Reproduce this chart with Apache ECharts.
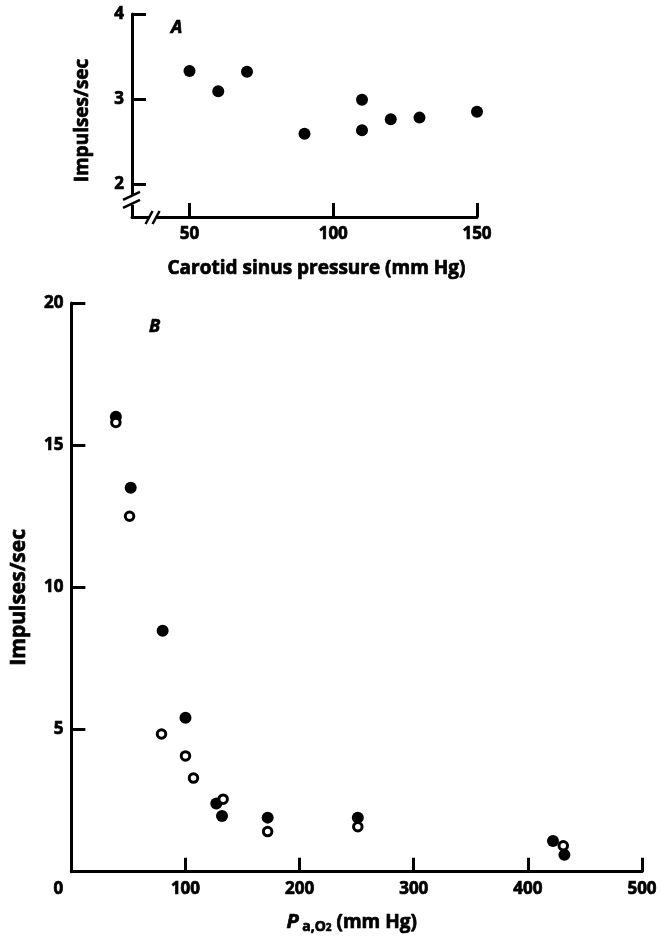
<!DOCTYPE html>
<html><head><meta charset="utf-8">
<script src="https://cdn.jsdelivr.net/npm/echarts@6/dist/echarts.min.js"></script>
<style>html,body{margin:0;padding:0;background:#fff}#c{width:662px;height:939px}</style>
</head><body><div id="c"></div>
<script>
// Panel A: carotid sinus pressure vs impulses/sec
const aPressure = [50, 60, 70, 90, 110, 110, 120, 130, 150];
const aImpulses = [3.33, 3.09, 3.32, 2.59, 2.99, 2.63, 2.76, 2.78, 2.85];
const aXTicks = [50, 100, 150];
const aYTicks = [2, 3, 4];
// Panel B: PaO2 vs impulses/sec
const bFilledPO2 = [39, 52, 80, 100, 127, 132, 172, 251, 422, 432];
const bFilledImp = [16.0, 13.5, 8.47, 5.41, 2.40, 1.96, 1.90, 1.90, 1.08, 0.59];
const bOpenPO2 = [39, 51, 79, 100, 107, 133, 172, 251, 431];
const bOpenImp = [15.8, 12.5, 4.84, 4.07, 3.29, 2.55, 1.41, 1.58, 0.91];

const F = '"Open Sans", Lato, sans-serif';
const zip = (a, b) => a.map((v, i) => [v, b[i]]);
const axLine = {show: true, lineStyle: {color: '#000', width: 3}};
const tick = {show: true, inside: true, length: 14, lineStyle: {color: '#000', width: 3}};
const thick = {textBorderColor: '#000', textBorderWidth: 0.7};
const lab = (fs) => Object.assign({color: '#000', fontFamily: F, fontWeight: 'bold', fontSize: fs}, thick);
const ttl = Object.assign({fontFamily: F, fontStyle: 'italic', fontWeight: 'bold', fontSize: 18, color: '#000'}, thick);

const chart = echarts.init(document.getElementById('c'), null, {renderer: 'canvas'});
const option = {
  backgroundColor: '#fff',
  animation: false,
  grid: [
    {left: 132, right: 185, top: 14, height: 203},
    {left: 70, right: 20, top: 303, bottom: 63}
  ],
  title: [
    {text: 'A', left: 166, top: 14, textStyle: ttl},
    {text: 'B', left: 144, top: 313, textStyle: ttl}
  ],
  xAxis: [
    {gridIndex: 0, type: 'value', min: 30, max: 150,
     axisLine: axLine, splitLine: {show: false},
     axisTick: Object.assign({}, tick, {customValues: aXTicks}),
     axisLabel: Object.assign(lab(17), {customValues: aXTicks, margin: 9}),
     name: 'Carotid sinus pressure (mm Hg)', nameLocation: 'middle', nameGap: 42,
     nameTextStyle: Object.assign(lab(19), {padding: [0, 0, 0, 24]})},
    {gridIndex: 1, type: 'value', min: 0, max: 500, interval: 100,
     axisLine: axLine, splitLine: {show: false}, axisTick: tick,
     axisLabel: Object.assign(lab(17), {margin: 9,
       formatter: v => v === 0 ? '{z|0}' : String(v),
       rich: {z: Object.assign({fontFamily: F, fontWeight: 'bold', fontSize: 17, color: '#000', padding: [0, 26, 0, 0]}, thick)}}),
     name: '{p|P}{s| a,O}{ss|2}{n| (mm Hg)}', nameLocation: 'middle', nameGap: 40,
     nameTextStyle: {color: '#000', padding: [0, 10, 0, 0], rich: {
       p: Object.assign({fontFamily: F, fontStyle: 'italic', fontWeight: 'bold', fontSize: 20, color: '#000'}, thick),
       s: Object.assign({fontFamily: F, fontWeight: 'bold', fontSize: 14, color: '#000', verticalAlign: 'bottom', padding: [8, 0, 0, 0]}, thick),
       ss: Object.assign({fontFamily: F, fontWeight: 'bold', fontSize: 10, color: '#000', verticalAlign: 'bottom', padding: [12, 0, 0, 0]}, thick),
       n: Object.assign({fontFamily: F, fontWeight: 'bold', fontSize: 19, color: '#000'}, thick)}}}
  ],
  yAxis: [
    {gridIndex: 0, type: 'value', min: 1.61, max: 4,
     axisLine: axLine, splitLine: {show: false},
     axisTick: Object.assign({}, tick, {customValues: aYTicks}),
     axisLabel: Object.assign(lab(17), {customValues: aYTicks, margin: 8}),
     name: 'Impulses/sec', nameLocation: 'middle', nameGap: 40,
     nameTextStyle: Object.assign(lab(19), {padding: [0, 10, 0, 0]})},
    {gridIndex: 1, type: 'value', min: 0, max: 20, interval: 5,
     axisLine: axLine, splitLine: {show: false}, axisTick: tick,
     axisLabel: Object.assign(lab(17), {margin: 8, formatter: v => v === 0 ? '' : String(v)}),
     name: 'Impulses/sec', nameLocation: 'middle', nameGap: 42,
     nameTextStyle: Object.assign(lab(21), {padding: [0, 20, 0, 0]})}
  ],
  series: [
    {type: 'scatter', xAxisIndex: 0, yAxisIndex: 0, data: zip(aPressure, aImpulses),
     symbol: 'circle', symbolSize: 12, itemStyle: {color: '#000', opacity: 1}},
    {type: 'scatter', xAxisIndex: 1, yAxisIndex: 1, data: zip(bFilledPO2, bFilledImp),
     symbol: 'circle', symbolSize: 12, itemStyle: {color: '#000', opacity: 1}},
    {type: 'scatter', xAxisIndex: 1, yAxisIndex: 1, data: zip(bOpenPO2, bOpenImp),
     symbol: 'circle', symbolSize: 8.5, itemStyle: {color: '#fff', borderColor: '#000', borderWidth: 3, opacity: 1}}
  ]
};
chart.setOption(option);

// axis breaks for panel A
const corner = chart.convertToPixel({gridIndex: 0}, [30, 1.61]);
const yb = chart.convertToPixel({gridIndex: 0}, [30, 1.8]);
const xb = chart.convertToPixel({gridIndex: 0}, [37.5, 1.61]);
const g = [];
g.push({type: 'rect', shape: {x: corner[0] - 3, y: yb[1] - 5, width: 6, height: 9}, style: {fill: '#fff'}, z: 100});
g.push({type: 'line', shape: {x1: yb[0] - 9, y1: yb[1] - 1, x2: yb[0] + 8, y2: yb[1] - 9}, style: {stroke: '#000', lineWidth: 2.5}, z: 101});
g.push({type: 'line', shape: {x1: yb[0] - 9, y1: yb[1] + 7, x2: yb[0] + 8, y2: yb[1] - 1}, style: {stroke: '#000', lineWidth: 2.5}, z: 101});
g.push({type: 'rect', shape: {x: xb[0] - 4, y: corner[1] - 3, width: 7, height: 6}, style: {fill: '#fff'}, z: 100});
g.push({type: 'line', shape: {x1: xb[0] - 8, y1: corner[1] + 7, x2: xb[0] - 1, y2: corner[1] - 6}, style: {stroke: '#000', lineWidth: 2.5}, z: 101});
g.push({type: 'line', shape: {x1: xb[0] - 1, y1: corner[1] + 7, x2: xb[0] + 6, y2: corner[1] - 6}, style: {stroke: '#000', lineWidth: 2.5}, z: 101});
chart.setOption({graphic: g});
</script></body></html>
